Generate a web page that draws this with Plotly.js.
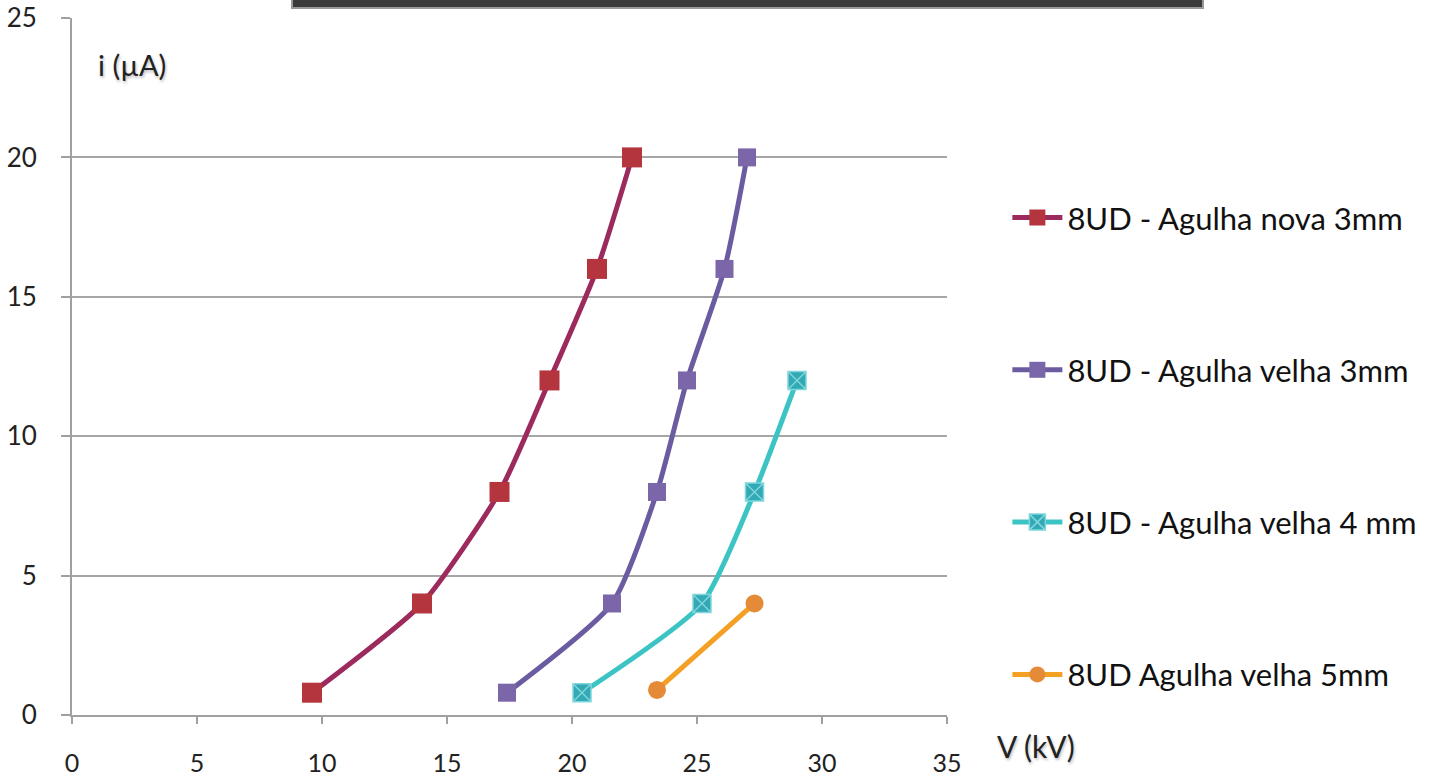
<!DOCTYPE html>
<html>
<head>
<meta charset="utf-8">
<script src="https://cdn.plot.ly/plotly-3.0.1.min.js"></script>
<style>html,body{margin:0;padding:0;background:#fff;}#chart{width:1441px;height:777px;}</style>
</head>
<body>
<div id="chart"></div>
<script>
const seriesNames = [
  "8UD - Agulha nova 3mm",
  "8UD - Agulha velha 3mm",
  "8UD - Agulha velha 4 mm",
  "8UD Agulha velha 5mm"
];
const voltNova3 = [9.6, 14.0, 17.1, 19.1, 21.0, 22.4];
const currNova3 = [0.8, 4, 8, 12, 16, 20];
const voltVelha3 = [17.4, 21.6, 23.4, 24.6, 26.1, 27.0];
const currVelha3 = [0.8, 4, 8, 12, 16, 20];
const voltVelha4 = [20.4, 25.2, 27.3, 29.0];
const currVelha4 = [0.8, 4, 8, 12];
const voltVelha5 = [23.4, 27.3];
const currVelha5 = [0.9, 4];
const xTicks = [0, 5, 10, 15, 20, 25, 30, 35];
const yTicks = [0, 5, 10, 15, 20, 25];

const FONT = "Lato, 'Open Sans', sans-serif";
const lineColors = ["#9C2A5C", "#6B5BA0", "#3CC4C4", "#F4A024"];
const markerColors = ["#B4353E", "#7A66A8", "#33A9B6", "#E58A36"];
const symbols = ["square", "square", "square-x", "circle"];
const sizes = [20, 18, 18, 18];
const xs = [voltNova3, voltVelha3, voltVelha4, voltVelha5];
const ys = [currNova3, currVelha3, currVelha4, currVelha5];

const traces = seriesNames.map((n, i) => ({
  type: "scatter",
  mode: "lines+markers",
  name: n,
  x: xs[i],
  y: ys[i],
  legendgroup: "g" + i,
  line: {color: lineColors[i], width: 5, shape: "spline", smoothing: 0.6},
  marker: {symbol: symbols[i], size: sizes[i], color: markerColors[i],
           line: {color: i === 2 ? "#7FD6DC" : markerColors[i], width: i === 2 ? 1.5 : 0}}
}));

const layout = {
  width: 1441, height: 777,
  margin: {l: 72, r: 494, t: 18, b: 62, autoexpand: false},
  paper_bgcolor: "#ffffff", plot_bgcolor: "#ffffff",
  font: {family: FONT, size: 25, color: "#222"},
  showlegend: true,
  legend: {
    x: 1.069, xanchor: "left", y: 0.752, yanchor: "top",
    font: {family: FONT, size: 31, color: "#111"},
    traceorder: "grouped", tracegroupgap: 109,
    bgcolor: "rgba(0,0,0,0)", borderwidth: 0, itemwidth: 50
  },
  xaxis: {
    range: [0, 35], tickvals: xTicks, ticktext: xTicks.map(String),
    showgrid: false, zeroline: false, automargin: false,
    showline: true, linecolor: "#A0A0A0", linewidth: 2,
    ticks: "outside", ticklen: 7, tickwidth: 2, tickcolor: "#A0A0A0",
    ticklabelstandoff: 18,
    tickfont: {family: FONT, size: 25, color: "#222"},
    fixedrange: true
  },
  yaxis: {
    range: [0, 25], tickvals: yTicks, ticktext: yTicks.map(String),
    showgrid: true, gridcolor: "#A6A6A6", gridwidth: 2, zeroline: false, automargin: false,
    showline: true, linecolor: "#A0A0A0", linewidth: 2,
    ticks: "outside", ticklen: 9, tickwidth: 2, tickcolor: "#A0A0A0",
    ticklabelstandoff: 19,
    tickfont: {family: FONT, size: 26, color: "#222"},
    fixedrange: true
  },
  annotations: [
    {xref: "paper", yref: "paper", x: (96 - 72) / 875, y: (715 - 64) / 697,
     xanchor: "left", yanchor: "middle", showarrow: false, text: "i (µA)",
     font: {family: FONT, size: 29, color: "#222", shadow: "1px 2px 3px #bbb"}},
    {xref: "paper", yref: "paper", x: (995 - 72) / 875, y: (715 - 746) / 697,
     xanchor: "left", yanchor: "middle", showarrow: false, text: "V (kV)",
     font: {family: FONT, size: 30, color: "#222", shadow: "1px 2px 3px #bbb"}}
  ],
  shapes: [
    {type: "rect", xref: "paper", yref: "paper",
     x0: (292 - 72) / 875, x1: (1203 - 72) / 875,
     y0: (715 - 8) / 697, y1: (715 + 20) / 697,
     fillcolor: "#3a3a3a", line: {color: "#999", width: 2}, layer: "above"}
  ]
};

Plotly.newPlot("chart", traces, layout, {displayModeBar: false, staticPlot: true});
</script>
</body>
</html>
